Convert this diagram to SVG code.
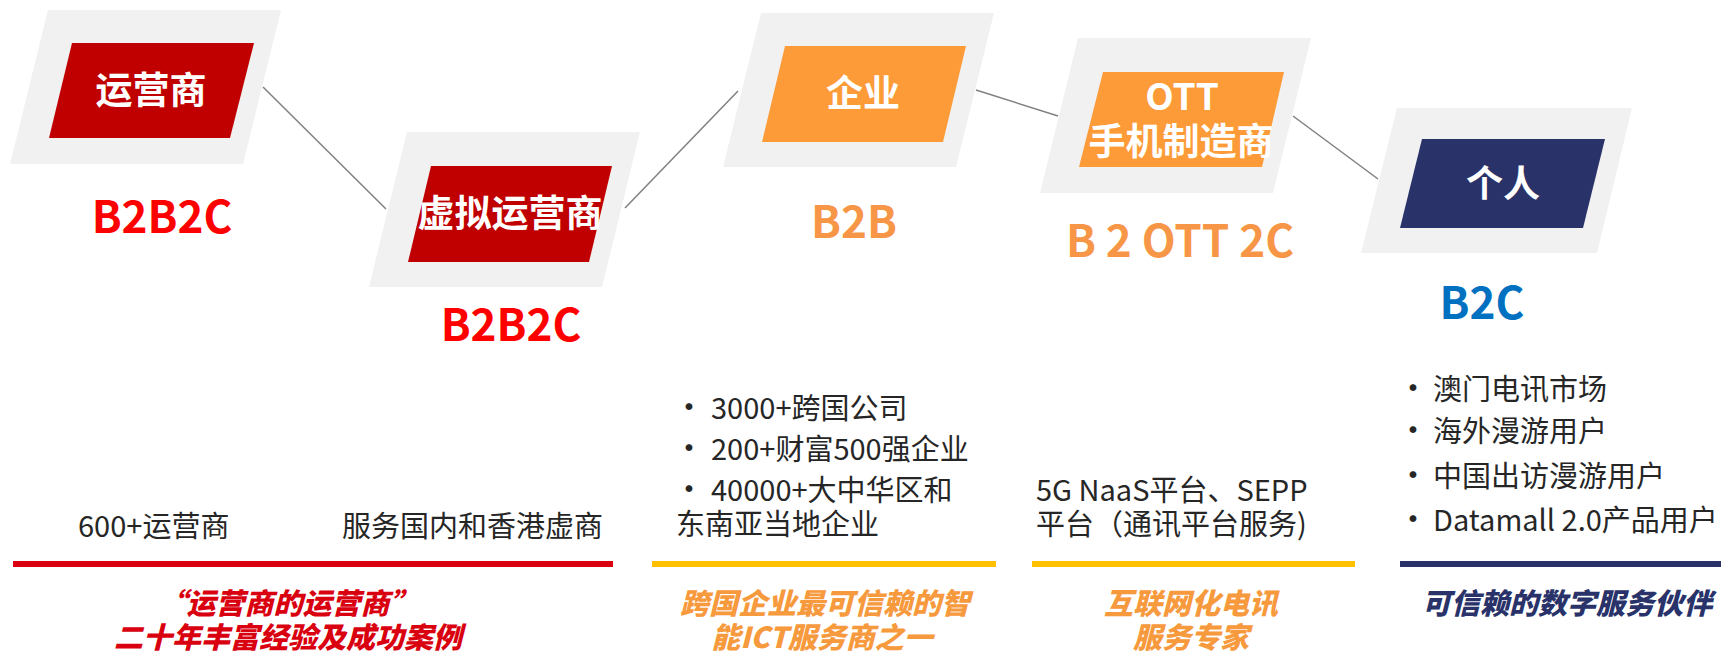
<svg xmlns="http://www.w3.org/2000/svg" width="1724" height="653" viewBox="0 0 1724 653">
<style>
text{font-family:"Noto Sans CJK SC","Noto Sans",sans-serif}
.outer{fill:#F1F1F1}
.red{fill:#C00000}
.org{fill:#FD9B38}
.navy{fill:#29336A}
.nl{fill:#FFFFFF;font-size:37px;font-weight:700;text-anchor:middle}
.tag{font-size:44px;font-weight:700;text-anchor:middle}
.body{fill:#262626;font-size:29px}
.bul{fill:#262626;font-size:32px;text-anchor:middle}
.slogan{font-size:29px;font-weight:900;font-style:italic;text-anchor:middle}
.conn{stroke:#808080;stroke-width:1.5;fill:none}
</style>
<rect width="1724" height="653" fill="#FFFFFF"/>
<g id="connectors">
<line class="conn" x1="263" y1="87" x2="386" y2="209"/>
<line class="conn" x1="625" y1="208" x2="738" y2="91"/>
<line class="conn" x1="976" y1="90" x2="1058" y2="116"/>
<line class="conn" x1="1293" y1="116" x2="1378" y2="179"/>
</g>
<g id="node-operator">
<polygon class="outer" points="48,10 281,10 243,164 10,164"/>
<polygon class="red" points="72,43 254,43 230,138 49,138"/>
<text class="nl" x="151" y="104">运营商</text>
<text class="tag" x="162" y="233" fill="#FF0000">B2B2C</text>
</g>
<g id="node-mvno">
<polygon class="outer" points="407,132 640,132 602,287 369,287"/>
<polygon class="red" points="431,166 612,166 589,262 408,262"/>
<text class="nl" x="510" y="227">虚拟运营商</text>
<text class="tag" x="511" y="341" fill="#FF0000">B2B2C</text>
</g>
<g id="node-enterprise">
<polygon class="outer" points="761,13 994,13 956,167 723,167"/>
<polygon class="org" points="785,46 966,46 943,142 762,142"/>
<text class="nl" x="863" y="107">企业</text>
<text class="tag" x="854" y="238" fill="#F79646">B2B</text>
</g>
<g id="node-ott">
<polygon class="outer" points="1078,38 1311,38 1273,193 1040,193"/>
<polygon class="org" points="1103,72 1284,72 1262,167 1079,167"/>
<text class="nl" x="1182" y="110">OTT</text>
<text class="nl" x="1181" y="155">手机制造商</text>
<text class="tag" x="1180" y="257" fill="#F79646">B 2 OTT 2C</text>
</g>
<g id="node-personal">
<polygon class="outer" points="1397,108 1632,108 1597,253 1361,253"/>
<polygon class="navy" points="1422,139 1605,139 1583,228 1400,228"/>
<text class="nl" x="1503" y="197">个人</text>
<text class="tag" x="1482" y="319" fill="#0070C0">B2C</text>
</g>
<g id="panel-operators">
<text class="body" x="78" y="537">600+运营商</text>
<text class="body" x="342" y="537">服务国内和香港虚商</text>
<rect x="13" y="561" width="600" height="6" fill="#D9000F"/>
<text class="slogan" x="288" y="614" fill="#D9000F">“运营商的运营商”</text>
<text class="slogan" x="288" y="648" fill="#D9000F">二十年丰富经验及成功案例</text>
</g>
<g id="panel-enterprise">
<text class="bul" x="689" y="419">•</text>
<text class="body" x="711" y="419">3000+跨国公司</text>
<text class="bul" x="689" y="460">•</text>
<text class="body" x="711" y="460">200+财富500强企业</text>
<text class="bul" x="689" y="501">•</text>
<text class="body" x="711" y="501">40000+大中华区和</text>
<text class="body" x="676" y="535">东南亚当地企业</text>
<rect x="652" y="561" width="344" height="6" fill="#FFC000"/>
<text class="slogan" x="825" y="614" fill="#F7993D">跨国企业最可信赖的智</text>
<text class="slogan" x="822" y="648" fill="#F7993D">能ICT服务商之一</text>
</g>
<g id="panel-ott">
<text class="body" x="1036" y="501">5G NaaS平台、SEPP</text>
<text class="body" x="1036" y="535">平台（通讯平台服务)</text>
<rect x="1032" y="561" width="323" height="6" fill="#FFC000"/>
<text class="slogan" x="1191" y="614" fill="#F7993D">互联网化电讯</text>
<text class="slogan" x="1191" y="648" fill="#F7993D">服务专家</text>
</g>
<g id="panel-personal">
<text class="bul" x="1413" y="400">•</text>
<text class="body" x="1433" y="400">澳门电讯市场</text>
<text class="bul" x="1413" y="442">•</text>
<text class="body" x="1433" y="442">海外漫游用户</text>
<text class="bul" x="1413" y="487">•</text>
<text class="body" x="1433" y="487">中国出访漫游用户</text>
<text class="bul" x="1413" y="531">•</text>
<text class="body" x="1433" y="531">Datamall 2.0产品用户</text>
<rect x="1400" y="561" width="321" height="6" fill="#29336A"/>
<text class="slogan" x="1567" y="614" fill="#29336A">可信赖的数字服务伙伴</text>
</g>
</svg>
